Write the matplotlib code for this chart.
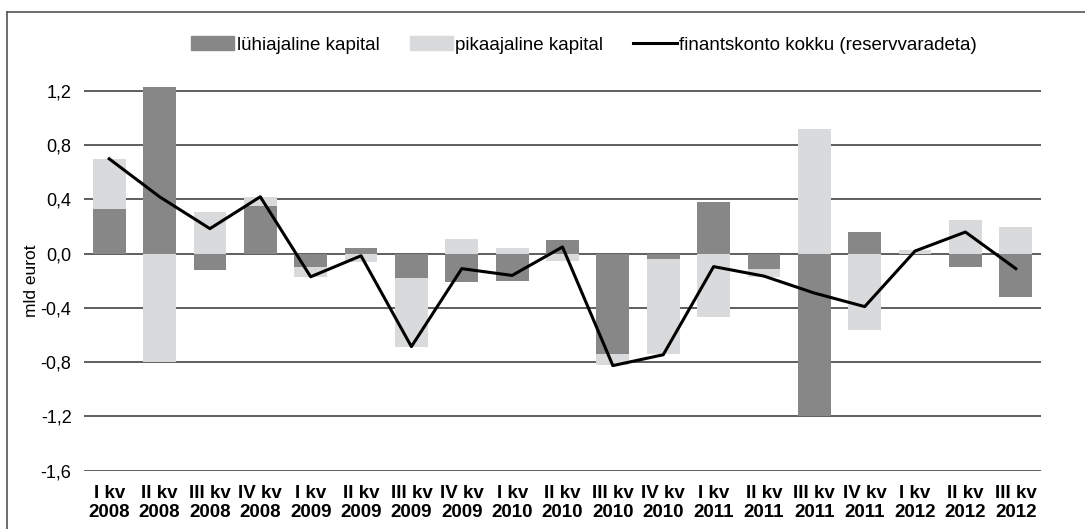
import matplotlib
matplotlib.use('Agg')
import matplotlib.pyplot as plt
from matplotlib.patches import Patch
from matplotlib.lines import Line2D

plt.rcParams['font.family'] = ['Liberation Sans', 'DejaVu Sans']

# quarters and years
quarters = (['I kv', 'II kv', 'III kv', 'IV kv'] * 5)[:19]
years = ['2008'] * 4 + ['2009'] * 4 + ['2010'] * 4 + ['2011'] * 4 + ['2012'] * 3
labels = [q + '\n' + y for q, y in zip(quarters, years)]

# billions of euros
short_term = [0.33, 1.23, -0.12, 0.35, -0.10, 0.04, -0.18, -0.21, -0.20, 0.10,
              -0.74, -0.04, 0.38, -0.11, -1.20, 0.16, -0.005, -0.10, -0.32]
long_term = [0.37, -0.80, 0.31, 0.07, -0.07, -0.06, -0.51, 0.11, 0.04, -0.05,
             -0.08, -0.70, -0.47, -0.06, 0.92, -0.56, 0.03, 0.25, 0.20]
total = [0.70, 0.42, 0.185, 0.42, -0.17, -0.015, -0.685, -0.11, -0.16, 0.05,
         -0.825, -0.745, -0.095, -0.165, -0.29, -0.39, 0.02, 0.16, -0.11]

dark = '#878787'
light = '#d9dadb'

# px per unit ~135.6, 1.2 gridline at y=91, -1.6 at y=470.7
y_top = 1.26
top_px = 91 - (y_top - 1.2) * 135.6

fig = plt.figure(figsize=(10.85, 5.29), dpi=100)
ax = fig.add_axes([84 / 1085, 1 - 470.7 / 529, (1041 - 84) / 1085, (470.7 - top_px) / 529])

x = list(range(len(labels)))
width = 0.65

# stack positives and negatives separately (excel style)
light_bottom = []
for s, l in zip(short_term, long_term):
    if (s >= 0) == (l >= 0):
        light_bottom.append(s)
    else:
        light_bottom.append(0)

ax.bar(x, short_term, width, color=dark, zorder=2)
ax.bar(x, long_term, width, bottom=light_bottom, color=light, zorder=2)
ax.plot(x, total, color='black', lw=2.2, zorder=3)

ax.set_ylim(-1.6, y_top)
ax.set_xlim(-0.5, len(labels) - 0.5)
ticks = [-1.6, -1.2, -0.8, -0.4, 0.0, 0.4, 0.8, 1.2]
ax.set_yticks(ticks)
ax.set_yticklabels([f'{t:.1f}'.replace('.', ',') for t in ticks], fontsize=13)
ax.yaxis.grid(True, color='#333333', lw=1.1, zorder=1)
ax.set_axisbelow(True)
ax.set_xticks(x)
ax.set_xticklabels(labels, fontsize=13.5, fontweight='bold', linespacing=1.2)
ax.tick_params(axis='both', length=0)
ax.tick_params(axis='x', pad=10)
ax.tick_params(axis='y', pad=9)
for s in ax.spines.values():
    s.set_visible(False)
ax.set_ylabel('mld eurot', fontsize=12.5)
ax.yaxis.set_label_coords(-0.047, 0.49)

handles = [Patch(color=dark), Patch(color=light), Line2D([], [], color='black', lw=2.2)]
names = ['lühiajaline kapital', 'pikaajaline kapital', 'finantskonto kokku (reservvaradeta)']
fig.legend(handles, names, loc='center', bbox_to_anchor=(584 / 1085, 1 - 45 / 529), ncol=3,
           frameon=False, fontsize=13.5, handlelength=2.3, handleheight=0.7, handletextpad=0.15,
           columnspacing=1.6)

# outer frame, top and left only
fig.add_artist(Line2D([7 / 1085, 1], [1 - 12 / 529, 1 - 12 / 529], color='#555555', lw=1.2))
fig.add_artist(Line2D([7 / 1085, 7 / 1085], [0, 1 - 12 / 529], color='#555555', lw=1.2))

fig.savefig('out.png', dpi=100)
